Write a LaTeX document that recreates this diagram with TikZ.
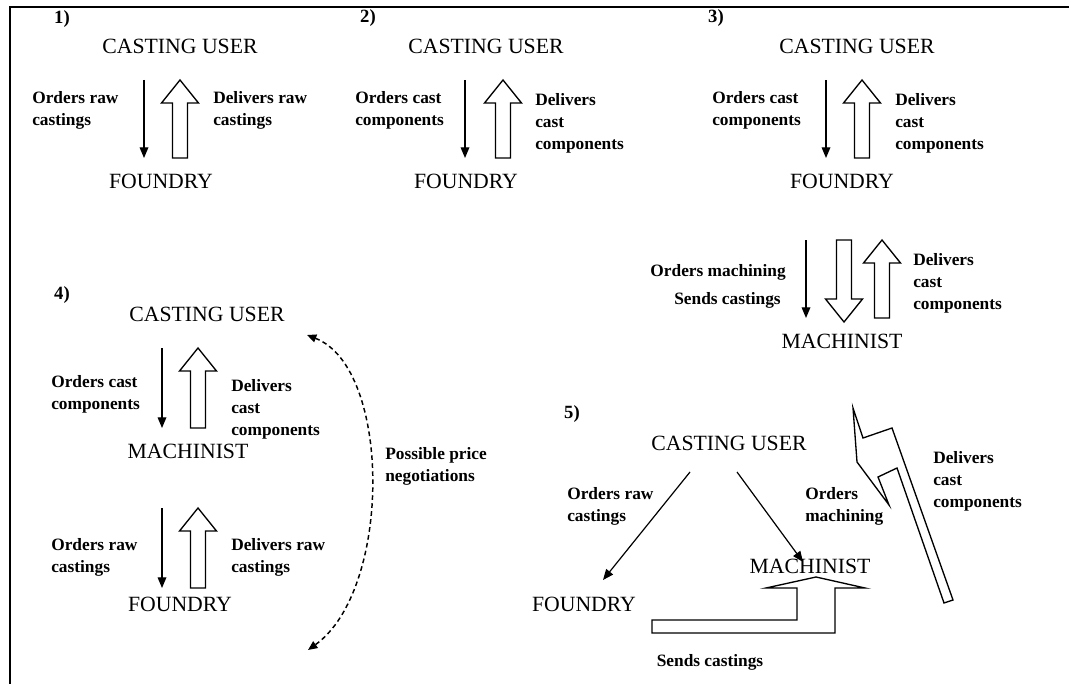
\documentclass[tikz,border=0pt]{standalone}
\usepackage{fontspec}
\setmainfont{Liberation Serif}
\usetikzlibrary{arrows.meta}
\newcommand\hollowup[3]{\draw[hollow] ({#1-7.5},#2) -- ({#1-7.5},{#3+23}) -- ({#1-18.5},{#3+23}) -- (#1,#3) -- ({#1+18.5},{#3+23}) -- ({#1+7.5},{#3+23}) -- ({#1+7.5},#2) -- cycle;}
\newcommand\hollowdown[3]{\draw[hollow] ({#1-7.5},#2) -- ({#1-7.5},{#3-23}) -- ({#1-18.5},{#3-23}) -- (#1,#3) -- ({#1+18.5},{#3-23}) -- ({#1+7.5},{#3-23}) -- ({#1+7.5},#2) -- cycle;}
\begin{document}
\begin{tikzpicture}[x=0.75pt,y=-0.75pt,
  title/.style={font=\fontsize{16.3}{19}\selectfont, inner sep=0pt},
  lbl/.style={font=\bfseries\fontsize{13}{16.5}\selectfont, align=left, anchor=west, inner sep=0pt},
  num/.style={font=\bfseries\fontsize{14}{16}\selectfont, inner sep=0pt},
  thin/.style={line width=0.9pt, -{Triangle[length=8pt,width=6.5pt]}},
  hollow/.style={draw, line width=1pt, fill=white, line join=miter},
  nego/.style={line width=1.1pt, dash pattern=on 3.5pt off 2.5pt, {Triangle[length=7pt,width=6pt]}-{Triangle[length=7pt,width=6pt]}},
]
\useasboundingbox (0,0) rectangle (1069,684);
\draw[line width=2.2pt] (10,684) -- (10,7) -- (1069,7);

% ---- panel 1
\node[num] (n1) at (62,19) {1)};
\node[title] (cu1) at (180,46) {CASTING USER};
\node[title] (fo1) at (161,181) {FOUNDRY};
\coordinate (o1a) at (144,80); \coordinate (o1b) at (144,158);
\draw[thin] (o1a) -- (o1b);
\hollowup{180}{158}{80}
\node[lbl] (l1a) at (32,110) {Orders raw\\castings};
\node[lbl] (l1b) at (213,110) {Delivers raw\\castings};

% ---- panel 2
\node[num] (n2) at (368,18) {2)};
\node[title] (cu2) at (486,46) {CASTING USER};
\node[title] (fo2) at (466,181) {FOUNDRY};
\coordinate (o2a) at (465,80); \coordinate (o2b) at (465,158);
\draw[thin] (o2a) -- (o2b);
\hollowup{503}{158}{80}
\node[lbl] (l2a) at (355,110) {Orders cast\\components};
\node[lbl] (l2b) at (535,123) {Delivers\\cast\\components};

% ---- panel 3
\node[num] (n3) at (716,18) {3)};
\node[title] (cu3) at (857,46) {CASTING USER};
\node[title] (fo3) at (842,181) {FOUNDRY};
\coordinate (o3a) at (826,80); \coordinate (o3b) at (826,158);
\draw[thin] (o3a) -- (o3b);
\hollowup{862}{158}{80}
\node[lbl] (l3a) at (712,110) {Orders cast\\components};
\node[lbl] (l3b) at (895,123) {Delivers\\cast\\components};
\coordinate (o3c) at (806,240); \coordinate (o3d) at (806,318);
\draw[thin] (o3c) -- (o3d);
\hollowdown{844}{240}{322}
\hollowup{882}{318}{240}
\node[lbl, anchor=east] (l3c) at (786,272) {Orders machining};
\node[lbl, anchor=east] (l3d) at (781,300) {Sends castings};
\node[lbl] (l3e) at (913,283) {Delivers\\cast\\components};
\node[title] (ma3) at (842,341) {MACHINIST};

% ---- panel 4
\node[num] (n4) at (62,295) {4)};
\node[title] (cu4) at (207,314) {CASTING USER};
\node[title] (ma4) at (188,451) {MACHINIST};
\node[title] (fo4) at (180,604) {FOUNDRY};
\coordinate (o4a) at (162,348); \coordinate (o4b) at (162,428);
\draw[thin] (o4a) -- (o4b);
\hollowup{198}{428}{348}
\coordinate (o4c) at (162,508); \coordinate (o4d) at (162,588);
\draw[thin] (o4c) -- (o4d);
\hollowup{198}{588}{508}
\node[lbl] (l4a) at (51,394) {Orders cast\\components};
\node[lbl] (l4b) at (231,409) {Delivers\\cast\\components};
\node[lbl] (l4c) at (51,557) {Orders raw\\castings};
\node[lbl] (l4d) at (231,557) {Delivers raw\\castings};
\node[lbl] (l4e) at (385,466) {Possible price\\negotiations};
\coordinate (ng1) at (307,335); \coordinate (ng2) at (308,650);
\draw[nego] (ng1) .. controls (392,368) and (392,590) .. (ng2);

% ---- panel 5
\node[num] (n5) at (572,414) {5)};
\node[title] (cu5) at (729,443) {CASTING USER};
\node[title] (ma5) at (810,566) {MACHINIST};
\node[title] (fo5) at (584,604) {FOUNDRY};
\coordinate (o5a) at (690,472); \coordinate (o5b) at (603,580);
\draw[thin] (o5a) -- (o5b);
\coordinate (o5c) at (737,472); \coordinate (o5d) at (803,562);
\draw[thin] (o5c) -- (o5d);
\node[lbl] (l5a) at (567,506) {Orders raw\\castings};
\node[lbl] (l5b) at (805,506) {Orders\\machining};
\node[lbl] (l5c) at (933,481) {Delivers\\cast\\components};
\node[lbl, anchor=center] (l5d) at (710,662) {Sends castings};
% sends castings bent arrow
\draw[hollow] (652,620) -- (797,620) -- (797,588) -- (766,588) -- (816,577) -- (865,588) -- (835,588) -- (835,633) -- (652,633) -- cycle;
% delivers cast components bolt arrow
\draw[hollow] (853,408) -- (863,438) -- (892,428) -- (953,600) -- (944,603) -- (897,468) -- (878,477) -- (889,505) -- (857,462) -- cycle;
\end{tikzpicture}
\end{document}
